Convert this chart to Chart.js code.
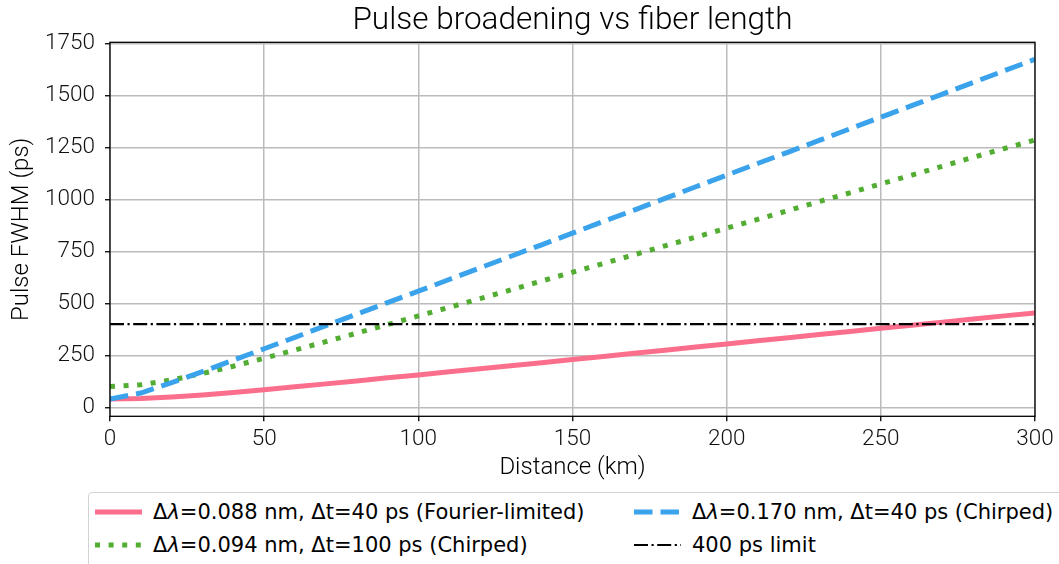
<!DOCTYPE html>
<html>
<head>
<meta charset="utf-8">
<script src="https://cdn.jsdelivr.net/npm/chart.js@4.4.0/dist/chart.umd.min.js"></script>
<style>
  body { margin: 0; background: #fff; }
  #wrap { position: relative; width: 1059px; height: 564px; overflow: hidden; }
  #legend {
    position: absolute; left: 88px; top: 492px; width: 1000px; height: 100px;
    border: 1px solid #d3d3d3; border-radius: 4px; background: #fff;
    font-family: "DejaVu Sans", sans-serif; font-size: 21px; color: #000;
  }
  .item { position: absolute; display: flex; align-items: center; white-space: nowrap; height: 24px; }
  .item svg { margin-right: 11px; }
</style>
</head>
<body>
<div id="wrap">
  <canvas id="chart"></canvas>
  <div id="legend"></div>
</div>
<script>
// distance along the fiber (km)
const distKm = [0, 10, 20, 30, 40, 50, 60, 70, 80, 90, 100, 110, 120, 130, 140, 150,
    160, 170, 180, 190, 200, 210, 220, 230, 240, 250, 260, 270, 280, 290, 300];

// pulse FWHM (ps)
const fourierLimited = [40, 43, 50, 60, 72, 85, 99, 113, 127, 142, 156, 171, 186, 200, 215, 230,
    245, 260, 275, 290, 305, 320, 335, 350, 365, 380, 395, 410, 425, 440, 454];
const chirped100 = [100, 109, 132, 163, 198, 236, 276, 316, 357, 398, 440, 481, 523, 565, 608, 650,
    692, 734, 777, 819, 862, 904, 947, 990, 1032, 1075, 1117, 1160, 1203, 1245, 1286];
const chirped40 = [40, 69, 119, 172, 227, 282, 337, 393, 448, 504, 559, 615, 671, 727, 782, 838,
    894, 949, 1005, 1061, 1117, 1173, 1228, 1284, 1340, 1396, 1451, 1507, 1563, 1619, 1674];
const limitPs = 400;

const yTicks = [0, 250, 500, 750, 1000, 1250, 1500, 1750];
const xTicks = [0, 50, 100, 150, 200, 250, 300];

const toPoints = ys => distKm.map((x, i) => ({ x: x, y: ys[i] }));

const series = [
    { label: 'Δλ=0.088 nm, Δt=40 ps (Fourier-limited)', data: toPoints(fourierLimited),
      color: '#fb6f8c', width: 5, dash: [], order: 4 },
    { label: 'Δλ=0.094 nm, Δt=100 ps (Chirped)', data: toPoints(chirped100),
      color: '#52ad32', width: 5, dash: [5, 8.6], order: 3 },
    { label: 'Δλ=0.170 nm, Δt=40 ps (Chirped)', data: toPoints(chirped40),
      color: '#3ba3ec', width: 5, dash: [18.5, 8], order: 2 },
    { label: '400 ps limit', data: [{ x: distKm[0], y: limitPs }, { x: distKm[distKm.length - 1], y: limitPs }],
      color: '#000', width: 2.2, dash: [14, 3.5, 2.2, 3.5], order: 1 }
];

const framePlugin = {
    id: 'frame',
    afterDatasetsDraw(chart) {
        const { ctx, chartArea: a } = chart;
        ctx.save();
        ctx.strokeStyle = '#000';
        ctx.lineWidth = 1.3;
        ctx.strokeRect(a.left, a.top, a.right - a.left, a.bottom - a.top);
        ctx.restore();
    }
};

Chart.defaults.font.family = 'Roboto';
Chart.defaults.font.weight = '300';
Chart.defaults.color = '#111';

new Chart(document.getElementById('chart'), {
    type: 'line',
    data: {
        datasets: series.map(s => ({
            label: s.label,
            data: s.data,
            borderColor: s.color,
            backgroundColor: s.color,
            borderWidth: s.width,
            borderDash: s.dash,
            borderCapStyle: 'butt',
            pointRadius: 0,
            tension: 0,
            fill: false,
            order: s.order
        }))
    },
    options: {
        responsive: true,
        maintainAspectRatio: false,
        animation: false,
        layout: { padding: { left: 0, right: 24, top: 0, bottom: 81.7 } },
        plugins: {
            legend: { display: false },
            tooltip: { enabled: false },
            title: {
                display: true,
                fullSize: false,
                text: 'Pulse broadening vs fiber length',
                color: '#000',
                font: { size: 31.5, weight: '300' },
                padding: { top: 2, bottom: 2.5 }
            }
        },
        scales: {
            x: {
                type: 'linear',
                min: 0,
                max: 300,
                afterBuildTicks: scale => { scale.ticks = xTicks.map(v => ({ value: v })); },
                afterFit: scale => { scale.height = 66; },
                ticks: { font: { size: 22.5 }, padding: 5, maxRotation: 0, callback: v => String(v) },
                grid: { color: '#bbbbbb', lineWidth: 1.5, tickColor: '#000', tickLength: 5, tickWidth: 1.3 },
                border: { display: false },
                title: { display: true, text: 'Distance (km)', color: '#000', font: { size: 24 }, padding: { top: 0, bottom: 0 } }
            },
            y: {
                min: -43,
                max: 1756,
                afterBuildTicks: scale => { scale.ticks = yTicks.map(v => ({ value: v })); },
                afterFit: scale => { scale.width = 110; },
                ticks: { font: { size: 22.5 }, padding: 10, callback: v => String(v) },
                grid: { color: '#bbbbbb', lineWidth: 1.5, tickColor: '#000', tickLength: 5, tickWidth: 1.3 },
                border: { display: false },
                title: { display: true, text: 'Pulse FWHM (ps)', color: '#000', font: { size: 24 }, padding: { top: 8, bottom: 0 } }
            }
        }
    },
    plugins: [framePlugin]
});

// legend laid out in two columns, column by column like the original
const legendSlots = [
    { left: 6, top: 19 }, { left: 6, top: 52 },
    { left: 545, top: 19 }, { left: 545, top: 52 }
];
const legend = document.getElementById('legend');
series.forEach((s, i) => {
    const item = document.createElement('div');
    item.className = 'item';
    item.style.left = legendSlots[i].left + 'px';
    item.style.top = (legendSlots[i].top - 12) + 'px';
    const dash = s.dash.length ? ` stroke-dasharray="${s.dash.join(' ')}"` : '';
    const text = s.label.replace('λ', '<i>λ</i>');
    item.innerHTML = `<svg width="47" height="12"><line x1="0" y1="6" x2="47" y2="6" stroke="${s.color}" stroke-width="${s.width}"${dash}/></svg><span>${text}</span>`;
    legend.appendChild(item);
});
</script>
</body>
</html>
